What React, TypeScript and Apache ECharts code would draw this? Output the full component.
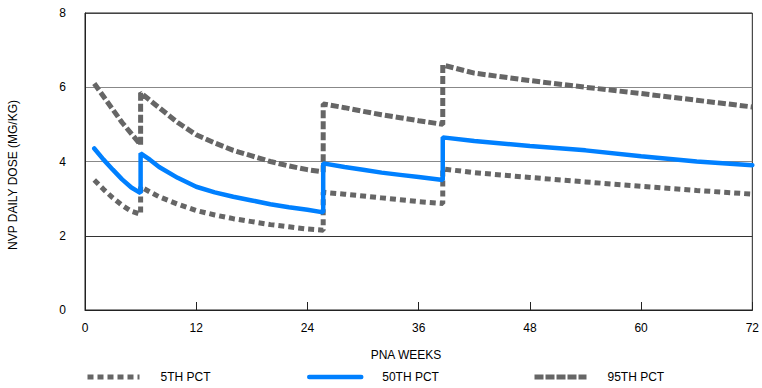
import React, { useEffect, useRef } from "react";
import * as echarts from "echarts";

const weeks = [1, 2, 3, 4, 5, 6, 6, 7, 8, 10, 12, 14, 16, 18, 20, 22, 24, 25.7, 25.7, 28, 30, 32, 34, 36, 38.6, 38.6, 42, 48, 54, 60, 66, 72];
const p95 = [6.1, 5.75, 5.4, 5.05, 4.75, 4.45, 5.85, 5.65, 5.45, 5.05, 4.72, 4.5, 4.3, 4.15, 4.0, 3.88, 3.78, 3.72, 5.55, 5.45, 5.35, 5.26, 5.18, 5.1, 5.0, 6.6, 6.38, 6.18, 6.0, 5.83, 5.65, 5.47];
const p50 = [4.35, 4.05, 3.78, 3.52, 3.3, 3.15, 4.22, 4.05, 3.85, 3.56, 3.32, 3.17, 3.05, 2.95, 2.85, 2.77, 2.7, 2.63, 3.95, 3.85, 3.78, 3.7, 3.64, 3.58, 3.5, 4.65, 4.55, 4.42, 4.3, 4.14, 4.0, 3.9];
const p5 = [3.5, 3.25, 3.02, 2.82, 2.66, 2.58, 3.32, 3.18, 3.05, 2.85, 2.68, 2.56, 2.46, 2.38, 2.3, 2.24, 2.18, 2.15, 3.17, 3.12, 3.07, 3.02, 2.97, 2.92, 2.87, 3.8, 3.7, 3.57, 3.45, 3.33, 3.22, 3.12];
const seriesNames = ["5TH PCT", "50TH PCT", "95TH PCT"];
const xTitle = "PNA WEEKS";
const yTitle = "NVP DAILY DOSE (MG/KG)";

const FONT = "Liberation Sans, Arial, sans-serif";

export default function App() {
  const ref = useRef<HTMLDivElement>(null);
  useEffect(() => {
    document.body.style.margin = "0";
    if (!ref.current) return;
    const chart = echarts.init(ref.current, null, { renderer: "svg" });
    const pairs = (vals: number[]) => weeks.map((w, i) => [w, vals[i]]);
    const legendBase = {
      top: 371,
      padding: 0,
      itemWidth: 52,
      itemHeight: 14,
      itemStyle: { opacity: 0 },
      textStyle: { fontFamily: FONT, fontSize: 12, color: "#000", padding: [0, 0, 0, 16] },
    };
    chart.setOption({
      animation: false,
      textStyle: { fontFamily: FONT },
      grid: { left: 85, right: 5, top: 13, bottom: 78, show: true, borderColor: "#222", borderWidth: 1 },
      legend: [
        { ...legendBase, left: 85, data: [seriesNames[0]], lineStyle: { width: 5, type: [6, 4], color: "#666" } },
        { ...legendBase, left: 307, data: [seriesNames[1]], lineStyle: { width: 4.5, color: "#0080ff", cap: "round" } },
        { ...legendBase, left: 532, data: [seriesNames[2]], lineStyle: { width: 5, type: [9, 2], color: "#666" } },
      ],
      xAxis: {
        type: "value",
        min: 0,
        max: 72,
        interval: 12,
        axisLine: { show: true, lineStyle: { color: "#222", width: 1 } },
        axisTick: { show: true, inside: true, length: 8, lineStyle: { color: "#222" } },
        axisLabel: { color: "#000", fontSize: 12, fontFamily: FONT, margin: 12 },
        splitLine: { show: false },
      },
      yAxis: {
        type: "value",
        min: 0,
        max: 8,
        interval: 2,
        axisLine: { show: true, lineStyle: { color: "#222", width: 1 } },
        axisTick: { show: false },
        axisLabel: { color: "#000", fontSize: 12, fontFamily: FONT, margin: 19 },
        splitLine: { show: true, lineStyle: { color: ["#222", "#333", "#888", "#888", "#444"], width: 1 } },
      },
      graphic: [
        {
          type: "text",
          x: 406,
          y: 355,
          style: { text: xTitle, fontFamily: FONT, fontSize: 12, fill: "#000", align: "center", verticalAlign: "middle" },
        },
        {
          type: "text",
          x: 13,
          y: 175,
          rotation: Math.PI / 2,
          style: { text: yTitle, fontFamily: FONT, fontSize: 12, fill: "#000", align: "center", verticalAlign: "middle" },
        },
      ],
      series: [
        {
          name: seriesNames[2],
          type: "line",
          data: pairs(p95),
          symbol: "none",
          lineStyle: { color: "#666", width: 5, type: [8, 3] },
          itemStyle: { color: "#666" },
        },
        {
          name: seriesNames[0],
          type: "line",
          data: pairs(p5),
          symbol: "none",
          lineStyle: { color: "#666", width: 5, type: [6, 4] },
          itemStyle: { color: "#666" },
        },
        {
          name: seriesNames[1],
          type: "line",
          data: pairs(p50),
          symbol: "none",
          lineStyle: { color: "#0080ff", width: 4.5, cap: "round" },
          itemStyle: { color: "#0080ff" },
        },
      ],
    });
    return () => chart.dispose();
  }, []);
  return <div ref={ref} style={{ width: 762, height: 388 }} />;
}
